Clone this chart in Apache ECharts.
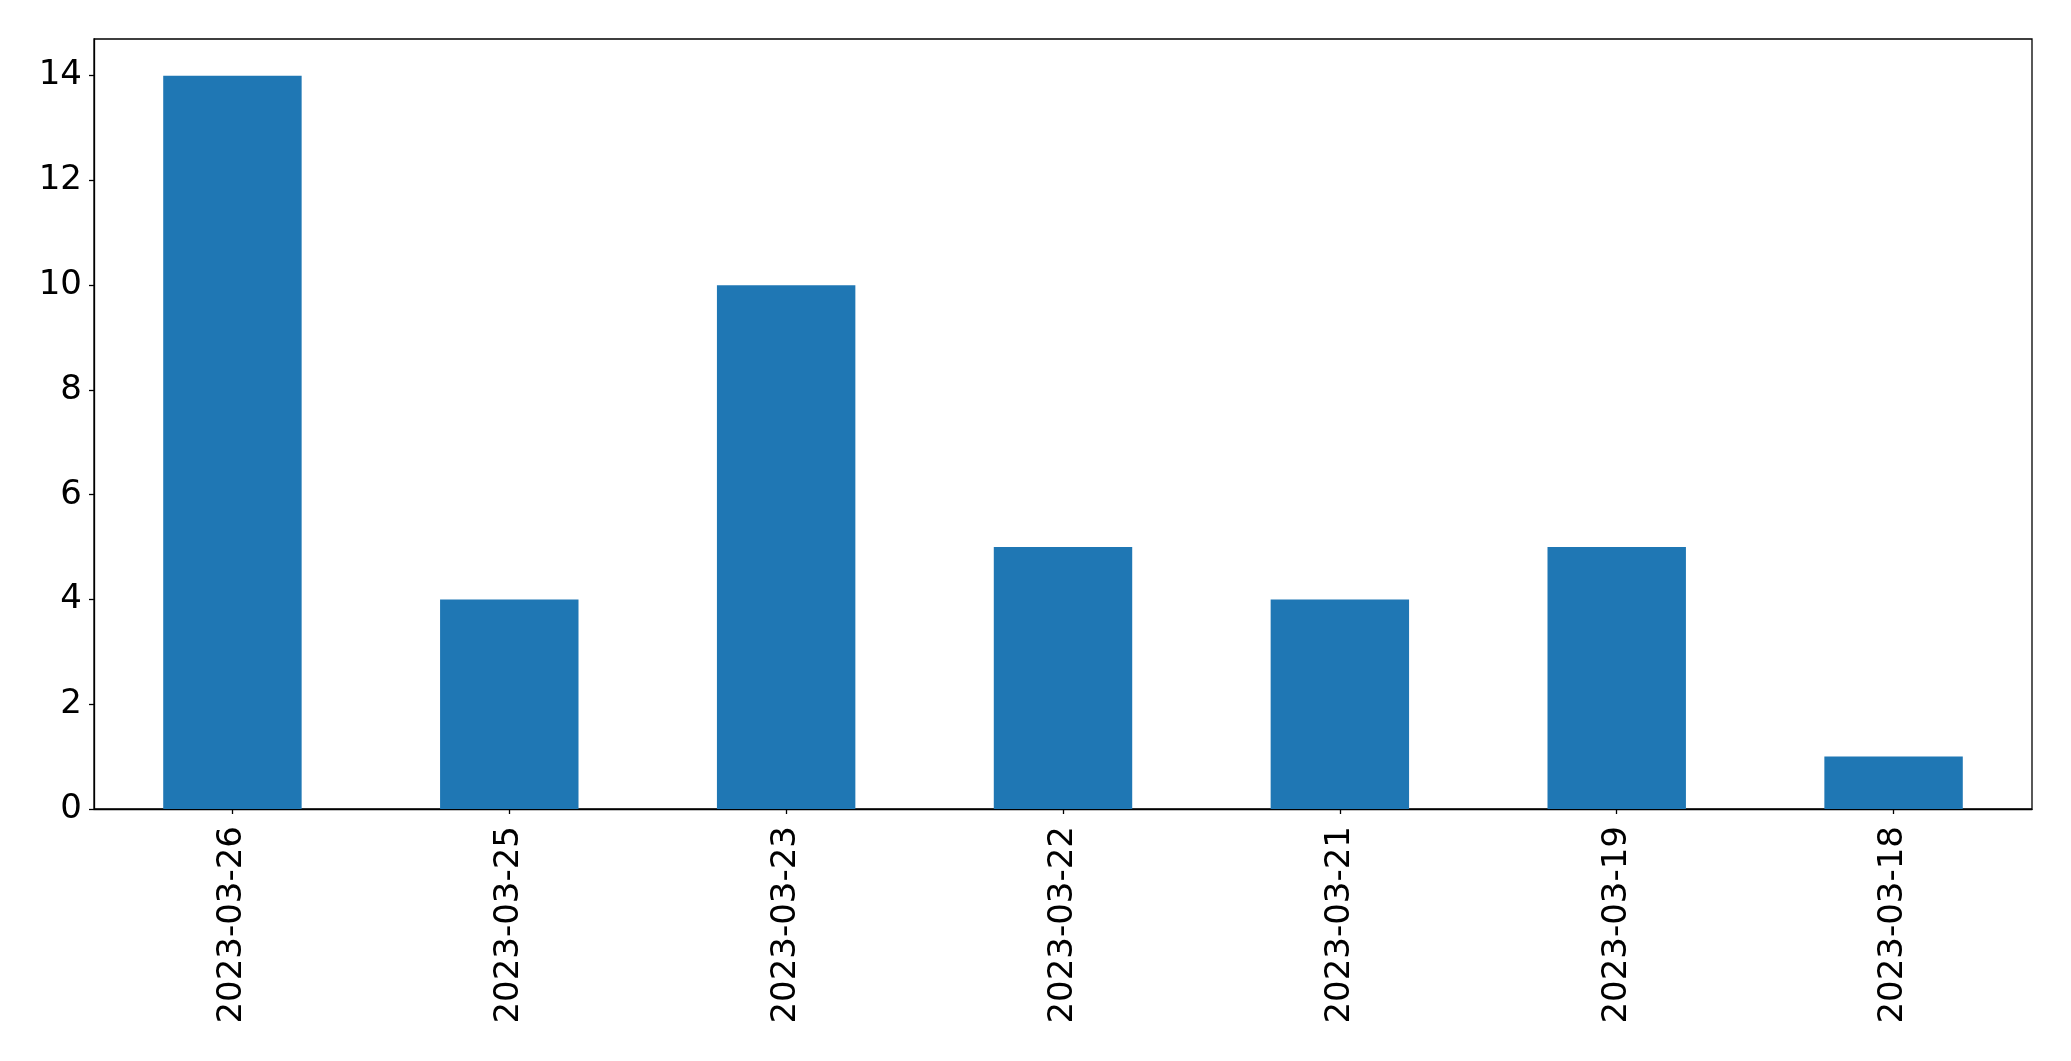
<!DOCTYPE html>
<html>
<head>
<meta charset="utf-8">
<script src="https://cdn.jsdelivr.net/npm/echarts@6/dist/echarts.min.js"></script>
<style>
html,body{margin:0;padding:0;background:#fff;}
#chart{width:2071px;height:1061px;}
</style>
</head>
<body>
<div id="chart"></div>
<script>
const categories = ['2023-03-26','2023-03-25','2023-03-23','2023-03-22','2023-03-21','2023-03-19','2023-03-18'];
const values = [14, 4, 10, 5, 4, 5, 1];
const yTicks = [0, 2, 4, 6, 8, 10, 12, 14];

const chart = echarts.init(document.getElementById('chart'));
const font = '"DejaVu Sans", sans-serif';
chart.setOption({
  animation: false,
  backgroundColor: '#ffffff',
  grid: {
    left: 94, right: 39, top: 39, bottom: 252,
    show: true, borderColor: '#000', borderWidth: 1.3, backgroundColor: 'transparent'
  },
  xAxis: {
    type: 'category',
    data: categories,
    boundaryGap: true,
    axisLine: { show: true, lineStyle: { color: '#000', width: 1.3 } },
    axisTick: { show: true, alignWithLabel: true, length: 5, lineStyle: { color: '#000', width: 1.3 } },
    axisLabel: { rotate: 90, margin: 17, fontSize: 34, color: '#000', fontFamily: font, interval: 0 },
    splitLine: { show: false }
  },
  yAxis: {
    type: 'value',
    min: 0, max: 14.7, interval: 2,
    axisLine: { show: true, lineStyle: { color: '#000', width: 1.3 } },
    axisTick: { show: true, length: 5, lineStyle: { color: '#000', width: 1.3 }, customValues: yTicks },
    axisLabel: {
      margin: 12, fontSize: 34, color: '#000', fontFamily: font,
      customValues: yTicks,
      formatter: function (v) { return (Math.abs(v - Math.round(v)) < 1e-9 && Math.round(v) % 2 === 0) ? String(Math.round(v)) : ''; }
    },
    splitLine: { show: false }
  },
  series: [{
    type: 'bar',
    data: values,
    barWidth: '50%',
    itemStyle: { color: '#1f77b4' }
  }]
});
</script>
</body>
</html>
